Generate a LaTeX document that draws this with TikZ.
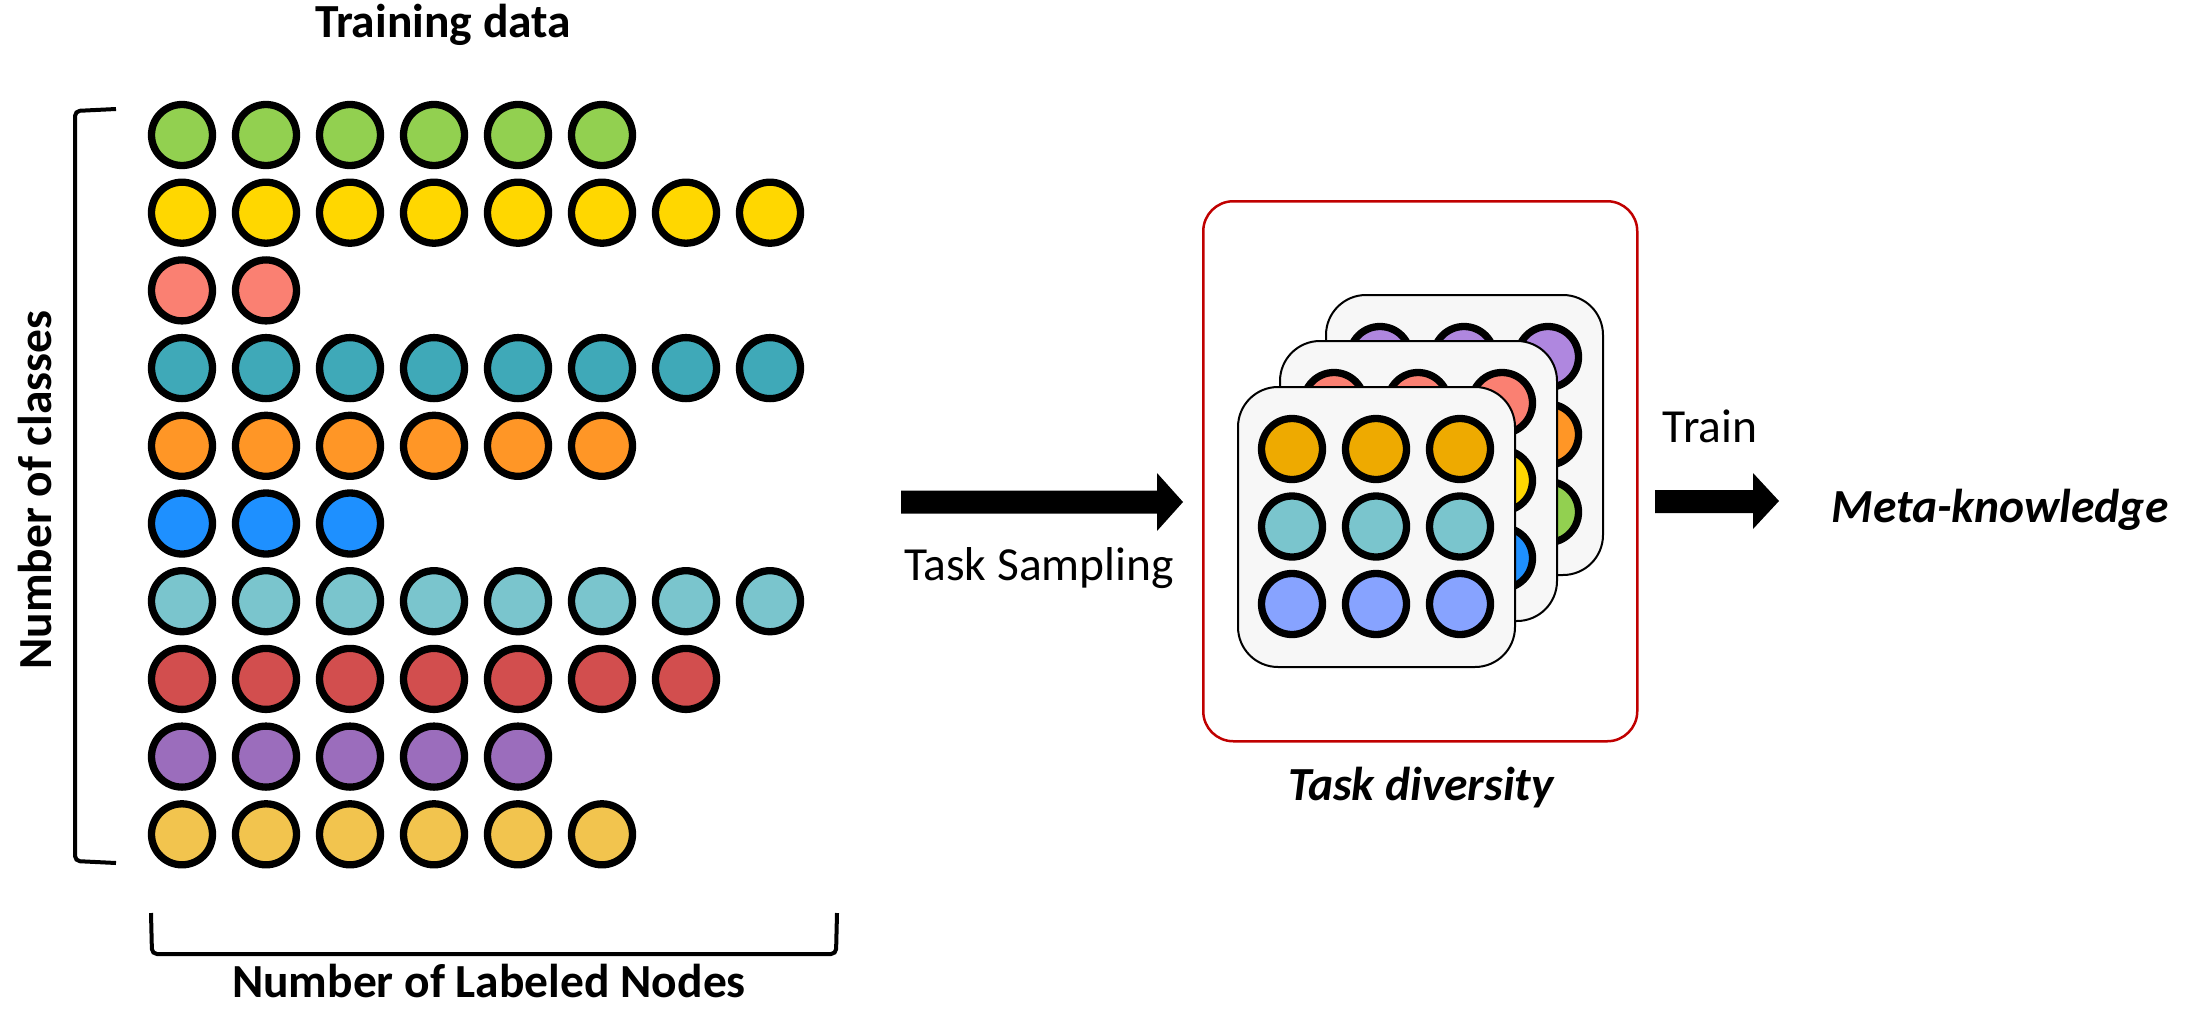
\documentclass[tikz,border=0pt]{standalone}
\usepackage{fontspec}
\setmainfont{Carlito}
\definecolor{cgreen}{HTML}{92D050}
\definecolor{cyellow}{HTML}{FFD700}
\definecolor{csalmon}{HTML}{FA8072}
\definecolor{cteal}{HTML}{3FA9B8}
\definecolor{corange}{HTML}{FF9626}
\definecolor{cblue}{HTML}{1E90FF}
\definecolor{clteal}{HTML}{7AC5CD}
\definecolor{cred}{HTML}{D24E4E}
\definecolor{cpurple}{HTML}{9B6DBC}
\definecolor{cgold}{HTML}{F2C44E}
\definecolor{cgoldb}{HTML}{EEAA00}
\definecolor{cperi}{HTML}{87A3FF}
\definecolor{cpurpleb}{HTML}{AF87DF}
\definecolor{cardgray}{HTML}{F7F7F7}
\definecolor{boxred}{HTML}{C00000}
\begin{document}
\begin{tikzpicture}[x=1pt,y=-1pt,
  dot/.style={circle,draw=black,line width=7.3pt,minimum size=61pt,inner sep=0pt},
  card/.style={draw=black,line width=2pt,fill=cardgray,rounded corners=40pt,
    minimum width=277pt,minimum height=280pt,anchor=north west,inner sep=0pt},
  bigbold/.style={font=\fontsize{47.5}{50}\selectfont\bfseries,inner sep=0pt},
  bigbi/.style={font=\fontsize{47.5}{50}\selectfont\bfseries\itshape,inner sep=0pt},
  bigreg/.style={font=\fontsize{47.5}{50}\selectfont,inner sep=0pt},
  bracket/.style={line width=4pt,rounded corners=5pt},
  blockarrow/.style={fill=black}]
\useasboundingbox (0,0) rectangle (2189,1012);

% training data dots
\foreach \col/\n [count=\r from 0] in {cgreen/6,cyellow/8,csalmon/2,cteal/8,corange/6,cblue/3,clteal/8,cred/7,cpurple/5,cgold/6}{
  \foreach \i in {1,...,\n}{
    \node[dot,fill=\col] (d\r-\i) at ({182+84*(\i-1)},{135+77.7*\r}) {};
  }
}

% brackets
\draw[bracket] (116,109) -- (75,111) -- (75,861) -- (116,863);
\draw[bracket] (151,913) -- (152,954) -- (836,954) -- (837,913);

% labels
\node[bigbold,anchor=base] (title) at (443,37) {Training data};
\node[bigbold,anchor=base] (xlab) at (489,997) {Number of Labeled Nodes};
\node[bigbold,rotate=90,anchor=base] (ylab) at (51,490) {Number of classes};

% red box
\node[draw=boxred,line width=2.5pt,rounded corners=30pt,minimum width=434pt,minimum height=540pt,anchor=north west,inner sep=0pt] (box) at (1202,200) {};

% task cards
\foreach \cx/\cy/\ca/\cb/\cc/\nm in {1325/294/cpurpleb/corange/cgreen/back,1279/340/csalmon/cyellow/cblue/mid,1237/386/cgoldb/clteal/cperi/front}{
  \node[card] (card-\nm) at (\cx,\cy) {};
  \foreach \j/\cl in {0/\ca,1/\cb,2/\cc}{
    \foreach \i in {0,1,2}{
      \node[dot,fill=\cl] (t\nm-\j-\i) at ({\cx+55+84*\i},{\cy+63+77.5*\j}) {};
    }
  }
}

\node[bigbi,anchor=base] (div) at (1421,800) {Task diversity};

% arrow 1
\fill[blockarrow] (901,490.5) -- (1157,490.5) -- (1157,473) -- (1183,502) -- (1157,531) -- (1157,513.5) -- (901,513.5) -- cycle;
\node[bigreg,anchor=base] (samp) at (1039,580) {Task Sampling};

% arrow 2
\fill[blockarrow] (1655,490) -- (1753,490) -- (1753,473) -- (1779,501) -- (1753,529) -- (1753,513) -- (1655,513) -- cycle;
\node[bigreg,anchor=base] (train) at (1710,442) {Train};
\node[bigbi,anchor=base] (meta) at (2000,522) {Meta-knowledge};
\end{tikzpicture}
\end{document}
